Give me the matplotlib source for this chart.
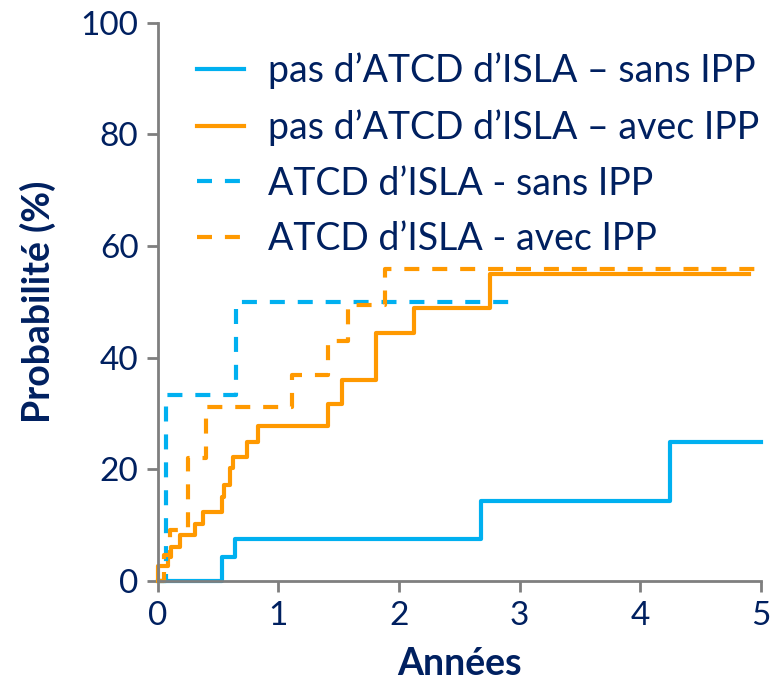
import matplotlib.pyplot as plt

# data (cumulative probability, %)
t_nohist_sans = [0, 0.53, 0.64, 2.68, 4.25, 5.0]
y_nohist_sans = [0, 4.3, 7.5, 14.3, 25.0, 25.0]

t_nohist_avec = [0, 0.0, 0.086, 0.105, 0.18, 0.31, 0.376, 0.53, 0.547, 0.597,
                 0.625, 0.74, 0.83, 1.41, 1.53, 1.81, 2.12, 2.75, 4.90]
y_nohist_avec = [0, 2.7, 4.4, 6.1, 8.2, 10.3, 12.4, 15.1, 17.2, 20.2,
                 22.3, 25.0, 27.7, 31.7, 36.0, 44.5, 48.9, 55.0, 55.0]

t_hist_sans = [0, 0.07, 0.65, 2.94]
y_hist_sans = [0, 33.3, 50.0, 50.0]

t_hist_avec = [0, 0.05, 0.10, 0.25, 0.40, 1.11, 1.41, 1.58, 1.88, 4.96]
y_hist_avec = [0, 4.7, 9.1, 22.0, 31.1, 37.0, 43.0, 49.5, 55.9, 55.9]

labels = ["pas d\u2019ATCD d\u2019ISLA \u2013 sans IPP",
          "pas d\u2019ATCD d\u2019ISLA \u2013 avec IPP",
          "ATCD d\u2019ISLA - sans IPP",
          "ATCD d\u2019ISLA - avec IPP"]

blue = '#00B0F0'
orange = '#FF9900'
navy = '#002060'
grey = '#7F7F7F'

plt.rcParams['font.family'] = ['Lato', 'DejaVu Sans']

fig = plt.figure(figsize=(7.74, 6.91), dpi=100)
ax = fig.add_axes([0.204, 0.159, 0.779, 0.808])

lw = 3
dash = (3.6, 3.1)
ax.plot(t_nohist_sans, y_nohist_sans, drawstyle='steps-post', color=blue, lw=lw,
        label=labels[0], clip_on=False)
ax.plot(t_nohist_avec, y_nohist_avec, drawstyle='steps-post', color=orange, lw=lw,
        label=labels[1], clip_on=False)
ax.plot(t_hist_sans, y_hist_sans, drawstyle='steps-post', color=blue, lw=lw,
        dashes=dash, dash_capstyle='butt', label=labels[2], clip_on=False)
ax.plot(t_hist_avec, y_hist_avec, drawstyle='steps-post', color=orange, lw=lw,
        dashes=dash, dash_capstyle='butt', label=labels[3], clip_on=False)

ax.set_xlim(0, 5)
ax.set_ylim(0, 100)
ax.set_xticks([0, 1, 2, 3, 4, 5])
ax.set_yticks([0, 20, 40, 60, 80, 100])

for s in ['top', 'right']:
    ax.spines[s].set_visible(False)
for s in ['left', 'bottom']:
    ax.spines[s].set_color(grey)
    ax.spines[s].set_linewidth(2)

ax.tick_params(direction='out', length=8, width=2, color=grey,
               labelsize=24, labelcolor=navy, pad=6)

ax.set_xlabel('Années', fontsize=27, fontweight='bold', color=navy, labelpad=12)
ax.set_ylabel('Probabilité (%)', fontsize=27, fontweight='bold', color=navy, labelpad=18)

leg = ax.legend(loc='upper left', bbox_to_anchor=(0.065, 0.947), frameon=False,
                fontsize=27, handlelength=1.25, handletextpad=0.65, labelspacing=0.53,
                borderpad=0, borderaxespad=0, labelcolor=navy)

fig.savefig('out.png', dpi=100)
